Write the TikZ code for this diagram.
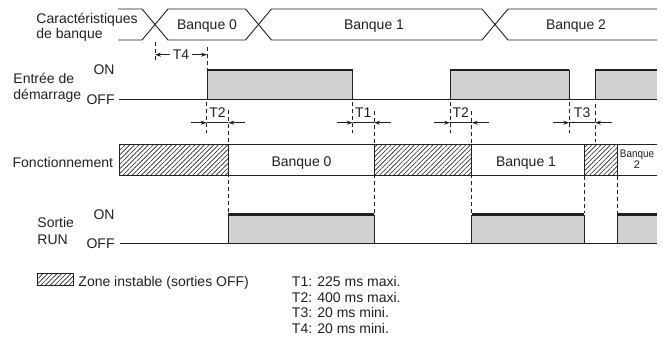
\documentclass[tikz,border=0pt]{standalone}
\usepackage{fontspec}
\setmainfont{Liberation Sans}
\usetikzlibrary{arrows.meta,patterns.meta}
\definecolor{sig}{gray}{0.82}
\definecolor{ink}{HTML}{231F20}
\begin{document}
\begin{tikzpicture}[x=1pt,y=-1pt,line width=0.9pt,draw=ink,
  txt/.style={font=\fontsize{14}{16}\selectfont,inner sep=0pt,text=ink},
  sml/.style={font=\fontsize{11}{12}\selectfont,inner sep=0pt,text=ink,align=center},
  dsh/.style={dash pattern=on 4pt off 3pt,line width=0.8pt},
  arr/.style={-{Stealth[length=6pt,width=4pt]},line width=0.8pt},
  hatch/.style={pattern={Lines[angle=45,distance=3.3pt,line width=0.6pt]},pattern color=ink},
  onl/.style={line width=2.6pt},
  bot/.style={line width=1.2pt}]
\useasboundingbox (0,0) rectangle (663,340);

% ---------- bank characteristics bus ----------
\draw (118,9) -- (142,9) -- (168,40) -- (245.5,40) -- (271.5,9) -- (482,9) -- (508,40) -- (657,40);
\draw (118,40) -- (142,40) -- (168,9) -- (245.5,9) -- (271.5,40) -- (482,40) -- (508,9) -- (657,9);
\node[txt,anchor=base west] (car1) at (36,23.5) {Caractéristiques};
\node[txt,anchor=base west] (car2) at (36,38.5) {de banque};
\node[txt,anchor=base] (bk0) at (207,29.5) {Banque 0};
\node[txt,anchor=base] (bk1) at (374,29.5) {Banque 1};
\node[txt,anchor=base] (bk2) at (576,29.5) {Banque 2};

% ---------- T4 ----------
\coordinate (t4a) at (155,42);
\coordinate (t4b) at (155,62);
\coordinate (t4c) at (207,47);
\coordinate (t4d) at (207,69);
\draw[dsh] (t4a) -- (t4b);
\draw[dsh] (t4c) -- (t4d);
\node[txt,anchor=base] (t4) at (181,59.5) {T4};
\draw[arr] ([xshift=-2.5pt]t4.west) -- (t4.west -| t4a);
\draw[arr] ([xshift=2.5pt]t4.east) -- (t4.east -| t4c);

% ---------- Entrée de démarrage ----------
\node[txt,anchor=base west] (in1) at (13,83) {Entrée de};
\node[txt,anchor=base west] (in2) at (13,99) {démarrage};
\node[txt,anchor=base east] (inon) at (115,74.5) {ON};
\node[txt,anchor=base east] (inoff) at (115,104.5) {OFF};
\fill[sig] (207,70) rectangle (352.7,99.3);
\fill[sig] (450,70) rectangle (569.3,99.3);
\fill[sig] (595,70) rectangle (657,99.3);
\draw (119,99.3) -- (657,99.3);
\draw (207,99.3) -- (207,70) (352.7,70) -- (352.7,99.3);
\draw (450,99.3) -- (450,70) (569.3,70) -- (569.3,99.3);
\draw (595,99.3) -- (595,70);
\draw[onl] (207,70) -- (352.7,70);
\draw[onl] (450,70) -- (569.3,70);
\draw[onl] (595,70) -- (657,70);

% ---------- timing marks T1..T3 ----------
\foreach \xa/\xb/\lab/\nm/\ya/\yb in {206.7/228.3/T2/a/110/213, 352.7/374/T1/b/111/213, 450/471.7/T2/c/111/213, 569.3/595/T3/d/104/142}{
  \coordinate (l\nm) at (\xa,102);
  \coordinate (l\nm e) at (\xa,133);
  \coordinate (r\nm) at (\xb,\ya);
  \coordinate (r\nm e) at (\xb,\yb);
  \draw[dsh] (l\nm) -- (l\nm e);
  \draw[dsh] (r\nm) -- (r\nm e);
  \node[txt,anchor=base] (lab\nm) at ({(\xa+\xb)/2},117.3) {\lab};
  \coordinate (pa\nm) at ({\xa-16},122.7);
  \coordinate (pb\nm) at ({\xb+17},122.7);
  \draw[arr] (pa\nm) -- (pa\nm -| l\nm);
  \draw[arr] (pb\nm) -- (pb\nm -| r\nm);
  \draw[line width=0.8pt] (pa\nm -| l\nm) -- (pb\nm -| r\nm);
}
\coordinate (de) at (584,176);
\coordinate (dee) at (584,213);
\coordinate (df) at (617.3,176);
\coordinate (dff) at (617.3,213);
\draw[dsh] (de) -- (dee);
\draw[dsh] (df) -- (dff);

% ---------- Fonctionnement ----------
\node[txt,anchor=base east] (fct) at (113.5,167) {Fonctionnement};
\fill[white] (119.3,144.5) rectangle (657,175.5);
\fill[hatch] (119.3,144.5) rectangle (228.3,175.5);
\fill[hatch] (374,144.5) rectangle (471.7,175.5);
\fill[hatch] (584,144.5) rectangle (617.3,175.5);
\draw (119.3,144.5) -- (657,144.5);
\draw[bot] (119.3,175.5) -- (657,175.5);
\foreach \xx in {119.3,228.3,374,471.7,584,617.3}{\draw (\xx,144.5) -- (\xx,175.5);}
\node[txt,anchor=base] (fb0) at (301.5,166.5) {Banque 0};
\node[txt,anchor=base] (fb1) at (526,166.5) {Banque 1};
\node[sml,anchor=center] (fb2) at (637,159) {\scalebox{0.9}[1]{Banque}\\[-1.5pt]2};

% ---------- Sortie RUN ----------
\node[txt,anchor=base west] (so1) at (37,227) {Sortie};
\node[txt,anchor=base west] (so2) at (37,244) {RUN};
\node[txt,anchor=base east] (soon) at (115,219) {ON};
\node[txt,anchor=base east] (sooff) at (115,248) {OFF};
\fill[sig] (228.3,214.5) rectangle (374,243);
\fill[sig] (471.7,214.5) rectangle (584,243);
\fill[sig] (617.3,214.5) rectangle (657,243);
\draw (120,243) -- (657,243);
\draw (228.3,243) -- (228.3,214.5) (374,214.5) -- (374,243);
\draw (471.7,243) -- (471.7,214.5) (584,214.5) -- (584,243);
\draw (617.3,243) -- (617.3,214.5);
\draw[onl] (228.3,214.5) -- (374,214.5);
\draw[onl] (471.7,214.5) -- (584,214.5);
\draw[onl] (617.3,214.5) -- (657,214.5);

% ---------- legend ----------
\node[draw=ink,line width=0.8pt,hatch,minimum width=36pt,minimum height=12pt,inner sep=0pt,anchor=north west] (lgbox) at (37,273) {};
\node[txt,anchor=base west] (lgtxt) at (78,286) {Zone instable (sorties OFF)};
\node[txt,anchor=base west] (n1) at (291.5,286.7) {T1: 225 ms maxi.};
\node[txt,anchor=base west] (n2) at (291.5,302.2) {T2: 400 ms maxi.};
\node[txt,anchor=base west] (n3) at (291.5,317.7) {T3: 20 ms mini.};
\node[txt,anchor=base west] (n4) at (291.5,333.2) {T4: 20 ms mini.};
\end{tikzpicture}
\end{document}
